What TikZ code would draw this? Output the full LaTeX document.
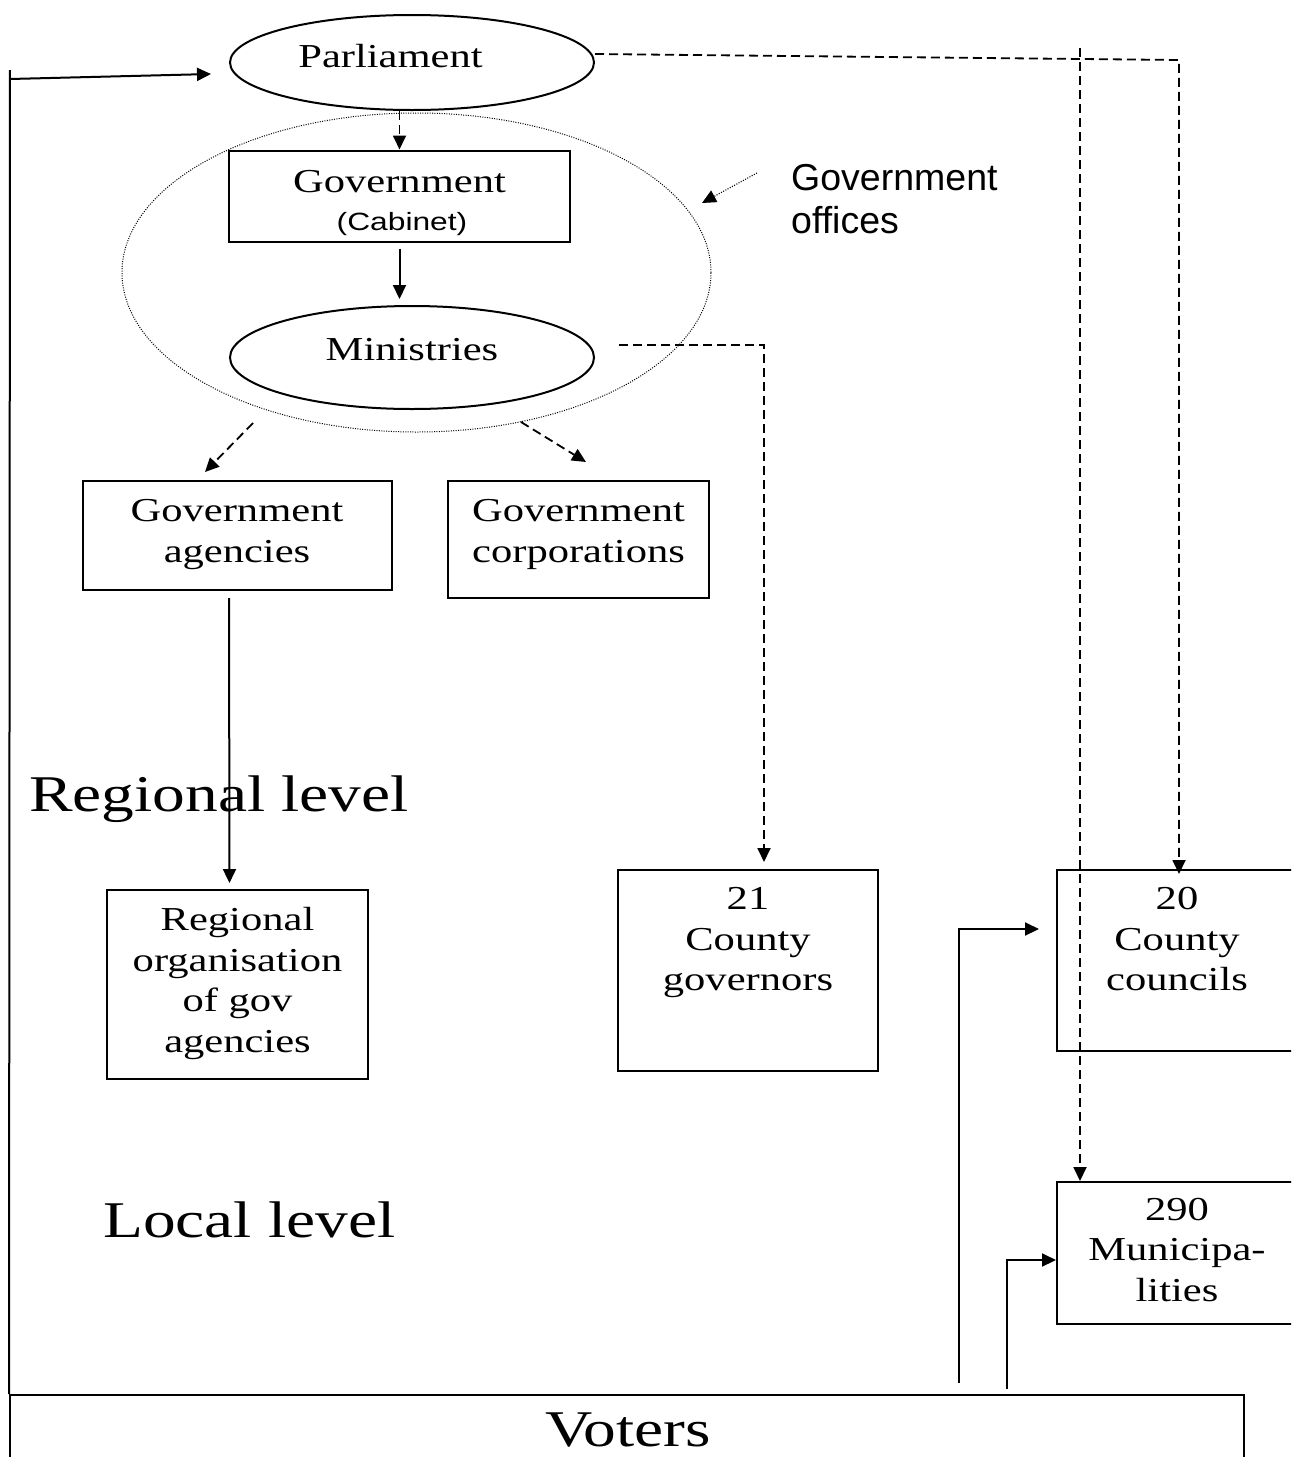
\documentclass[tikz,border=0pt]{standalone}
\usepackage{fontspec}
\usetikzlibrary{shapes.geometric,arrows.meta,calc}
\newfontfamily\sw{Liberation Serif}[FakeStretch=1.27]
\newfontfamily\ssw{Liberation Sans}[FakeStretch=1.27]
\newfontfamily\ssn{Liberation Sans}
\begin{document}
\begin{tikzpicture}[x=1pt,y=-1pt,
  box/.style={draw, line width=2pt, rectangle, inner sep=0pt},
  ell/.style={draw, line width=2pt, ellipse, inner sep=0pt},
  txt/.style={inner sep=0pt, anchor=north, align=center, font=\sw\fontsize{33.5}{40.5}\selectfont},
  one/.style={inner sep=0pt, anchor=base, font=\sw\fontsize{33.5}{40.5}\selectfont},
  big/.style={inner sep=0pt, anchor=base west, font=\sw\fontsize{51.5}{60}\selectfont},
  tip/.style={-{Triangle[length=14pt,width=13pt]}},
  solidarrow/.style={tip, line width=2pt},
  plain/.style={line width=2pt},
  dasharrow/.style={tip, line width=1.8pt, dash pattern=on 9pt off 5pt},
  dotarrow/.style={tip, line width=1.1pt, dash pattern=on 1pt off 1.5pt},
]
\useasboundingbox (0,0) rectangle (1291,1457);
\clip (0,0) rectangle (1291,1457);

% dotted "Government offices" ellipse
\node[draw, ellipse, inner sep=0pt, line width=1pt, dash pattern=on 1pt off 1.4pt,
      minimum width=589pt, minimum height=319pt] (offices) at (416.5,272.5) {};

% shapes
\node[ell, minimum width=364pt, minimum height=95pt] (parl) at (412,62.5) {};
\node[one] (parltxt) at (390.5,67.7) {Parliament};

\node[box, minimum width=341pt, minimum height=91pt] (gov) at (399.5,196) {};
\node[one] (govtxt) at (399.5,192.7) {Government};
\node[inner sep=0pt, anchor=base, font=\ssw\fontsize{25}{30}\selectfont] (cabtxt) at (402,230.7) {(Cabinet)};

\node[ell, minimum width=364pt, minimum height=103pt] (mins) at (412,357.5) {};
\node[one] (minstxt) at (412,360) {Ministries};

\node[inner sep=0pt, anchor=north west, align=left, font=\ssn\fontsize{37.5}{43}\selectfont]
  (gotxt) at (791,159.9) {\strut Government\\offices};

\node[box, minimum width=309pt, minimum height=109pt] (agen) at (237,535.5) {};
\node[txt] (agentxt) at (237,493) {\strut Government\\agencies};

\node[box, minimum width=261pt, minimum height=117pt] (corp) at (578.5,539.5) {};
\node[txt] (corptxt) at (578.5,493) {\strut Government\\corporations};

\node[big] (regl) at (29,811) {Regional level};
\node[big] (locl) at (103,1237) {Local level};

\node[box, minimum width=261pt, minimum height=189pt] (reg) at (237.5,984.5) {};
\node[txt] (regtxt) at (237.5,902.2) {\strut Regional\\organisation\\of gov\\agencies};

\node[box, minimum width=260pt, minimum height=201pt] (cgov) at (748,970.5) {};
\node[txt] (cgovtxt) at (748,881) {\strut 21\\County\\governors};

\node[box, minimum width=243pt, minimum height=181pt] (ccoun) at (1178.5,960.5) {};
\node[txt] (ccountxt) at (1177,881) {\strut 20\\County\\councils};

\node[box, minimum width=243pt, minimum height=142pt] (mun) at (1178.5,1253) {};
\node[txt] (muntxt) at (1177,1191.6) {\strut 290\\Municipa-\\lities};

\node[box, minimum width=1234pt, minimum height=105pt] (voters) at (627,1447.5) {};
\node[inner sep=0pt, anchor=base, font=\sw\fontsize{51.5}{60}\selectfont] (vottxt) at (628,1446) {Voters};

% coordinates for free ends
\coordinate (ltop) at (10,70);
\coordinate (lst) at (10,79);
\coordinate (pdst) at ($(parl.east)+(0,-8.5)$);
\coordinate (pr) at (1179,60);
\coordinate (vt) at (1080,48);
\coordinate (mst) at ($(mins.east)+(24,-12.5)$);
\coordinate (e1) at (253,423);
\coordinate (e2) at (521,422);
\coordinate (go1) at (757,173);
\coordinate (go2) at (702,203);
\coordinate (v1) at (959,1383);
\coordinate (v2) at (1007,1389);

% connectors
\draw[plain] (voters.north west) -- (ltop);
\draw[solidarrow] (lst) -- ($(parl.west)+(-18,11.5)$);
\draw[dasharrow] (gov.north |- parl.south) -- (gov.north);
\draw[solidarrow, shorten <=6pt, shorten >=6pt] (gov.south) -- (gov.south |- mins.north);
\draw[dasharrow, shorten >=7pt] (mst) -| ([xshift=16pt]cgov.north);
\draw[dasharrow, shorten >=-5pt] (pdst) -- (pr) -- (pr |- ccoun.north);
\draw[dasharrow] (vt) -- (vt |- mun.north);
\draw[dasharrow] (e1) -- ($(agen.north)+(-32,-8)$);
\draw[dasharrow] (e2) -- ($(corp.north)+(7.5,-18)$);
\draw[solidarrow, shorten <=7pt, shorten >=6pt] ([xshift=-8pt]agen.south) -- ([xshift=-8pt]reg.north);
\draw[dotarrow] (go1) -- (go2);
\draw[solidarrow] (v1) |- ([xshift=-17pt,yshift=31.5pt]ccoun.west);
\draw[solidarrow] (v2) |- ([yshift=-7pt]mun.west);
\end{tikzpicture}
\end{document}
